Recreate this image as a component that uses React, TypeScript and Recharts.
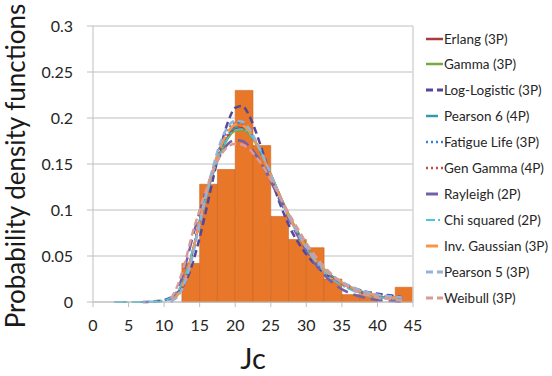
import React from "react";
import {
  ComposedChart,
  Bar,
  Line,
  XAxis,
  YAxis,
  CartesianGrid,
  ReferenceLine,
  Label,
} from "recharts";

// histogram bins (start of each 2.5 wide bin) and their densities
const binStarts = [0, 2.5, 5, 7.5, 10, 12.5, 15, 17.5, 20, 22.5, 25, 27.5, 30, 32.5, 35, 37.5, 40, 42.5];
const binDensity = [0, 0, 0, 0, 0, 0.042, 0.128, 0.144, 0.23, 0.17, 0.093, 0.068, 0.059, 0.025, 0.008, 0.008, 0, 0.016];

const xTicks = [0, 5, 10, 15, 20, 25, 30, 35, 40, 45];
const yTicks = [0, 0.05, 0.1, 0.15, 0.2, 0.25, 0.3];

// x points where the fitted pdfs are sampled
const xs = [3, 5, 7, 9, 10, 11, 12, 13, 14, 15, 16, 17, 18, 19, 20, 21, 22, 23, 24, 25, 26, 27, 28, 29, 30, 32, 34, 36, 38, 40, 42, 43.5];

const N = null;
const erlang = [N, N, N, N, N, 0.002, 0.009, 0.026, 0.054, 0.088, 0.118, 0.144, 0.165, 0.18, 0.188, 0.189, 0.183, 0.172, 0.156, 0.139, 0.121, 0.103, 0.087, 0.073, 0.06, 0.039, 0.025, 0.016, 0.01, 0.006, 0.004, 0.002];
const gamma = [N, N, N, N, N, 0.002, 0.009, 0.026, 0.054, 0.087, 0.117, 0.142, 0.163, 0.178, 0.186, 0.187, 0.182, 0.171, 0.156, 0.139, 0.121, 0.104, 0.088, 0.074, 0.061, 0.04, 0.026, 0.016, 0.01, 0.006, 0.004, 0.003];
const logLogistic = [N, N, 0, 0.001, 0.002, 0.005, 0.011, 0.022, 0.042, 0.07, 0.103, 0.138, 0.17, 0.196, 0.211, 0.213, 0.202, 0.183, 0.16, 0.136, 0.113, 0.093, 0.076, 0.063, 0.052, 0.035, 0.024, 0.017, 0.012, 0.009, 0.007, 0.005];
const pearson6 = [0, 0, 0, 0.0005, 0.001, 0.004, 0.011, 0.028, 0.055, 0.087, 0.118, 0.145, 0.167, 0.182, 0.19, 0.19, 0.184, 0.172, 0.156, 0.138, 0.12, 0.102, 0.086, 0.072, 0.059, 0.039, 0.026, 0.017, 0.011, 0.007, 0.005, 0.004];
const fatigueLife = [N, N, N, N, N, 0.002, 0.008, 0.024, 0.051, 0.085, 0.118, 0.148, 0.172, 0.188, 0.195, 0.194, 0.186, 0.173, 0.156, 0.138, 0.12, 0.102, 0.086, 0.072, 0.059, 0.039, 0.026, 0.017, 0.011, 0.007, 0.005, 0.004];
const genGamma = [N, N, N, N, N, 0.002, 0.01, 0.028, 0.056, 0.089, 0.12, 0.147, 0.168, 0.183, 0.19, 0.19, 0.184, 0.172, 0.156, 0.138, 0.12, 0.102, 0.086, 0.071, 0.058, 0.038, 0.024, 0.015, 0.009, 0.005, 0.003, 0.002];
const rayleigh = [N, N, N, N, N, 0, 0.015, 0.04, 0.07, 0.098, 0.123, 0.145, 0.161, 0.172, 0.176, 0.175, 0.169, 0.159, 0.146, 0.131, 0.115, 0.099, 0.083, 0.069, 0.056, 0.034, 0.019, 0.01, 0.005, 0.002, 0.001, 0];
const chiSquared = [0, 0, 0, 0.001, 0.002, 0.005, 0.013, 0.03, 0.056, 0.087, 0.117, 0.143, 0.164, 0.179, 0.187, 0.188, 0.183, 0.172, 0.157, 0.14, 0.122, 0.104, 0.087, 0.072, 0.058, 0.037, 0.023, 0.014, 0.008, 0.005, 0.003, 0.002];
const invGaussian = [N, N, N, N, N, 0.002, 0.009, 0.026, 0.054, 0.088, 0.12, 0.148, 0.17, 0.185, 0.193, 0.192, 0.185, 0.172, 0.156, 0.138, 0.12, 0.102, 0.086, 0.072, 0.059, 0.039, 0.026, 0.017, 0.011, 0.007, 0.005, 0.004];
const pearson5 = [N, N, N, N, N, 0.001, 0.007, 0.023, 0.05, 0.085, 0.119, 0.15, 0.175, 0.191, 0.197, 0.196, 0.188, 0.174, 0.157, 0.139, 0.12, 0.102, 0.086, 0.072, 0.06, 0.04, 0.027, 0.018, 0.012, 0.008, 0.006, 0.005];
const weibull = [N, N, N, N, N, 0.004, 0.02, 0.045, 0.075, 0.1, 0.124, 0.145, 0.16, 0.169, 0.172, 0.171, 0.166, 0.157, 0.146, 0.133, 0.119, 0.104, 0.09, 0.077, 0.064, 0.043, 0.027, 0.016, 0.009, 0.005, 0.003, 0.002];

const series = [
  { key: "erlang", name: "Erlang (3P)", values: erlang, color: "#a83b3b", dash: undefined, width: 2 },
  { key: "gamma", name: "Gamma (3P)", values: gamma, color: "#79a843", dash: undefined, width: 2 },
  { key: "logLogistic", name: "Log-Logistic (3P)", values: logLogistic, color: "#54479a", dash: "7 4", width: 2.5 },
  { key: "pearson6", name: "Pearson 6 (4P)", values: pearson6, color: "#2f9cab", dash: "12 6", width: 2 },
  { key: "fatigueLife", name: "Fatigue Life (3P)", values: fatigueLife, color: "#3b7fd2", dash: "2 3", width: 2 },
  { key: "genGamma", name: "Gen Gamma (4P)", values: genGamma, color: "#c64a4a", dash: "2 3", width: 2 },
  { key: "rayleigh", name: "Rayleigh (2P)", values: rayleigh, color: "#7460a8", dash: "12 6", width: 2.5 },
  { key: "chiSquared", name: "Chi squared (2P)", values: chiSquared, color: "#4cc3e0", dash: "9 3 2 3", width: 1.5 },
  { key: "invGaussian", name: "Inv. Gaussian (3P)", values: invGaussian, color: "#f79646", dash: "12 6", width: 2.5 },
  { key: "pearson5", name: "Pearson 5 (3P)", values: pearson5, color: "#93b3da", dash: "7 4", width: 2.5 },
  { key: "weibull", name: "Weibull (3P)", values: weibull, color: "#da9a98", dash: "7 4", width: 2.5 },
];

const binRows = binStarts.map((b, i) => ({ bin: b, density: binDensity[i] }));
const curveRows = xs.map((x, i) => {
  const row: Record<string, number | null> = { x };
  series.forEach((s) => (row[s.key] = s.values[i]));
  return row;
});

const FONT = "Lato, 'Open Sans', sans-serif";

function YTitle() {
  return (
    <text
      x={25}
      y={166}
      transform="rotate(-90, 25, 166)"
      textAnchor="middle"
      fontSize={26}
      fill="#1a1a1a"
      fontFamily={FONT}
    >
      Probability density functions
    </text>
  );
}

function XTitle() {
  return (
    <text x={253} y={369} textAnchor="middle" fontSize={29} fill="#1a1a1a" fontFamily={FONT}>
      Jc
    </text>
  );
}

function LegendBox() {
  return (
    <div style={{ position: "absolute", left: 0, top: 0, fontFamily: FONT }}>
      {series.map((s, i) => (
        <div
          key={s.key}
          style={{
            position: "absolute",
            left: 426,
            top: 38.5 + i * 25.9 - 9,
            height: 18,
            display: "flex",
            alignItems: "center",
            whiteSpace: "nowrap",
          }}
        >
          <svg width={17} height={10} style={{ marginRight: 1 }}>
            <line
              x1={0}
              y1={5}
              x2={17}
              y2={5}
              stroke={s.color}
              strokeWidth={s.width + 0.5}
              strokeDasharray={s.dash}
            />
          </svg>
          <span style={{ fontSize: 13.5, color: "#262626" }}>{s.name}</span>
        </div>
      ))}
    </div>
  );
}

export default function App() {
  return (
    <div style={{ position: "absolute", left: 0, top: 0, width: 552, height: 376, background: "#fff" }}>
      <ComposedChart
        width={552}
        height={376}
        data={binRows}
        margin={{ top: 26, right: 139, left: 0, bottom: 0 }}
      >
        <CartesianGrid xAxisId="num" vertical={false} stroke="#d4d4d4" strokeWidth={1.5} />
        <XAxis xAxisId="bins" dataKey="bin" type="category" hide height={0} />
        <XAxis
          xAxisId="num"
          dataKey="x"
          type="number"
          domain={[0, 45]}
          ticks={xTicks}
          allowDataOverflow
          height={74}
          tickSize={5}
          tickMargin={13}
          stroke="#bfbfbf"
          tick={{ fill: "#262626", fontSize: 16, fontFamily: FONT }}
        >
          <Label content={<XTitle />} />
        </XAxis>
        <YAxis
          domain={[0, 0.3]}
          ticks={yTicks}
          width={93}
          tickSize={6}
          tickMargin={14}
          stroke="#bfbfbf"
          tick={{ fill: "#262626", fontSize: 16, fontFamily: FONT }}
        >
          <Label content={<YTitle />} />
        </YAxis>
        <ReferenceLine xAxisId="num" x={45} stroke="#d4d4d4" strokeWidth={1.5} />
        <Bar
          xAxisId="bins"
          dataKey="density"
          fill="#e8772a"
          stroke="#c9641f"
          strokeWidth={0.6}
          barSize={17.75}
          isAnimationActive={false}
        />
        {series.map((s) => (
          <Line
            key={s.key}
            xAxisId="num"
            data={curveRows}
            dataKey={s.key}
            type="monotone"
            stroke={s.color}
            strokeWidth={s.width}
            strokeDasharray={s.dash}
            dot={false}
            activeDot={false}
            isAnimationActive={false}
          />
        ))}
      </ComposedChart>
      <LegendBox />
    </div>
  );
}
